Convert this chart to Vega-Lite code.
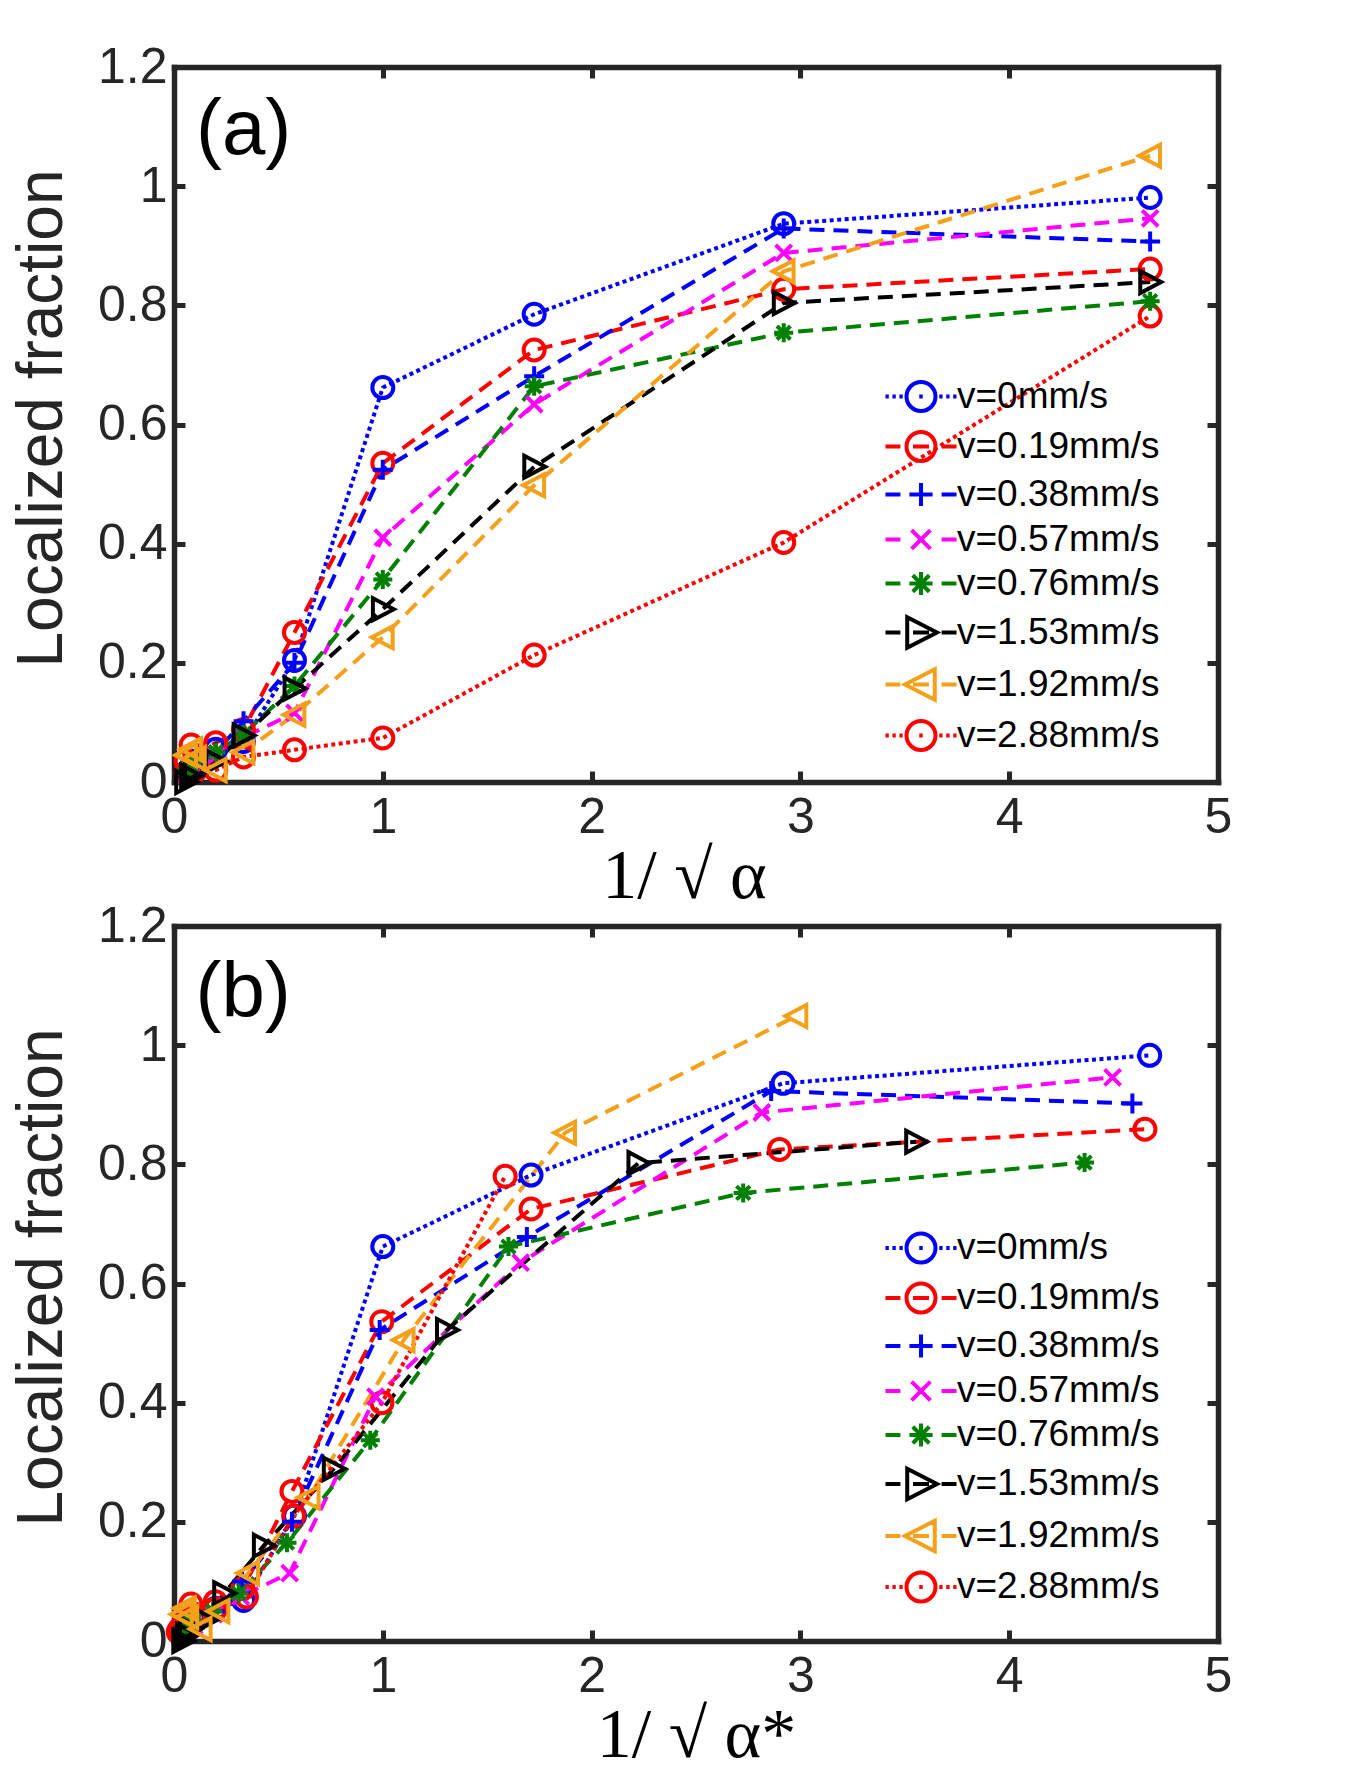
{
  "$schema": "https://vega.github.io/schema/vega-lite/v6.json",
  "background": "white",
  "padding": {"left": 10, "top": 42, "right": 10, "bottom": 10},
  "config": {
    "view": {"stroke": null},
    "font": "Liberation Sans",
    "axis": {
      "grid": false,
      "domainColor": "#262626",
      "domainWidth": 5.5,
      "domainCap": "square",
      "tickColor": "#262626",
      "tickWidth": 5,
      "tickSize": -11,
      "labelFont": "Liberation Sans",
      "labelFontSize": 50,
      "labelColor": "#262626",
      "labelOverlap": false,
      "labelFlush": false
    }
  },
  "datasets": {
    "a": [
      {"s": "v=0mm/s", "x": 0.058, "y": 0.015}, {"s": "v=0mm/s", "x": 0.082, "y": 0.025}, {"s": "v=0mm/s", "x": 0.1, "y": 0.035}, {"s": "v=0mm/s", "x": 0.2, "y": 0.055}, {"s": "v=0mm/s", "x": 0.333, "y": 0.068}, {"s": "v=0mm/s", "x": 0.577, "y": 0.204}, {"s": "v=0mm/s", "x": 1.0, "y": 0.662}, {"s": "v=0mm/s", "x": 1.725, "y": 0.785}, {"s": "v=0mm/s", "x": 2.92, "y": 0.937}, {"s": "v=0mm/s", "x": 4.675, "y": 0.981},
      {"s": "v=0.19mm/s", "x": 0.058, "y": 0.035}, {"s": "v=0.19mm/s", "x": 0.082, "y": 0.062}, {"s": "v=0.19mm/s", "x": 0.1, "y": 0.045}, {"s": "v=0.19mm/s", "x": 0.2, "y": 0.066}, {"s": "v=0.19mm/s", "x": 0.333, "y": 0.088}, {"s": "v=0.19mm/s", "x": 0.577, "y": 0.251}, {"s": "v=0.19mm/s", "x": 1.0, "y": 0.535}, {"s": "v=0.19mm/s", "x": 1.725, "y": 0.725}, {"s": "v=0.19mm/s", "x": 2.92, "y": 0.827}, {"s": "v=0.19mm/s", "x": 4.675, "y": 0.861},
      {"s": "v=0.38mm/s", "x": 0.058, "y": 0.01}, {"s": "v=0.38mm/s", "x": 0.082, "y": 0.02}, {"s": "v=0.38mm/s", "x": 0.1, "y": 0.03}, {"s": "v=0.38mm/s", "x": 0.2, "y": 0.05}, {"s": "v=0.38mm/s", "x": 0.333, "y": 0.102}, {"s": "v=0.38mm/s", "x": 0.577, "y": 0.2}, {"s": "v=0.38mm/s", "x": 1.0, "y": 0.524}, {"s": "v=0.38mm/s", "x": 1.725, "y": 0.681}, {"s": "v=0.38mm/s", "x": 2.92, "y": 0.929}, {"s": "v=0.38mm/s", "x": 4.675, "y": 0.907},
      {"s": "v=0.57mm/s", "x": 0.058, "y": 0.01}, {"s": "v=0.57mm/s", "x": 0.082, "y": 0.02}, {"s": "v=0.57mm/s", "x": 0.1, "y": 0.025}, {"s": "v=0.57mm/s", "x": 0.2, "y": 0.045}, {"s": "v=0.57mm/s", "x": 0.333, "y": 0.075}, {"s": "v=0.57mm/s", "x": 0.577, "y": 0.116}, {"s": "v=0.57mm/s", "x": 1.0, "y": 0.41}, {"s": "v=0.57mm/s", "x": 1.725, "y": 0.634}, {"s": "v=0.57mm/s", "x": 2.92, "y": 0.888}, {"s": "v=0.57mm/s", "x": 4.675, "y": 0.946},
      {"s": "v=0.76mm/s", "x": 0.058, "y": 0.02}, {"s": "v=0.76mm/s", "x": 0.082, "y": 0.03}, {"s": "v=0.76mm/s", "x": 0.1, "y": 0.035}, {"s": "v=0.76mm/s", "x": 0.2, "y": 0.05}, {"s": "v=0.76mm/s", "x": 0.333, "y": 0.08}, {"s": "v=0.76mm/s", "x": 0.577, "y": 0.161}, {"s": "v=0.76mm/s", "x": 1.0, "y": 0.34}, {"s": "v=0.76mm/s", "x": 1.725, "y": 0.664}, {"s": "v=0.76mm/s", "x": 2.92, "y": 0.754}, {"s": "v=0.76mm/s", "x": 4.675, "y": 0.807},
      {"s": "v=1.53mm/s", "x": 0.058, "y": 0.0}, {"s": "v=1.53mm/s", "x": 0.082, "y": 0.01}, {"s": "v=1.53mm/s", "x": 0.1, "y": 0.02}, {"s": "v=1.53mm/s", "x": 0.2, "y": 0.035}, {"s": "v=1.53mm/s", "x": 0.333, "y": 0.078}, {"s": "v=1.53mm/s", "x": 0.577, "y": 0.157}, {"s": "v=1.53mm/s", "x": 1.0, "y": 0.29}, {"s": "v=1.53mm/s", "x": 1.725, "y": 0.529}, {"s": "v=1.53mm/s", "x": 2.92, "y": 0.804}, {"s": "v=1.53mm/s", "x": 4.675, "y": 0.839},
      {"s": "v=1.92mm/s", "x": 0.058, "y": 0.045}, {"s": "v=1.92mm/s", "x": 0.082, "y": 0.055}, {"s": "v=1.92mm/s", "x": 0.1, "y": 0.04}, {"s": "v=1.92mm/s", "x": 0.2, "y": 0.02}, {"s": "v=1.92mm/s", "x": 0.333, "y": 0.05}, {"s": "v=1.92mm/s", "x": 0.577, "y": 0.113}, {"s": "v=1.92mm/s", "x": 1.0, "y": 0.243}, {"s": "v=1.92mm/s", "x": 1.725, "y": 0.498}, {"s": "v=1.92mm/s", "x": 2.92, "y": 0.857}, {"s": "v=1.92mm/s", "x": 4.675, "y": 1.051},
      {"s": "v=2.88mm/s", "x": 0.058, "y": 0.015}, {"s": "v=2.88mm/s", "x": 0.082, "y": 0.02}, {"s": "v=2.88mm/s", "x": 0.1, "y": 0.018}, {"s": "v=2.88mm/s", "x": 0.2, "y": 0.02}, {"s": "v=2.88mm/s", "x": 0.333, "y": 0.042}, {"s": "v=2.88mm/s", "x": 0.577, "y": 0.054}, {"s": "v=2.88mm/s", "x": 1.0, "y": 0.074}, {"s": "v=2.88mm/s", "x": 1.725, "y": 0.213}, {"s": "v=2.88mm/s", "x": 2.92, "y": 0.402}, {"s": "v=2.88mm/s", "x": 4.675, "y": 0.782}
    ],
    "b": [
      {"s": "v=0mm/s", "x": 0.058, "y": 0.015}, {"s": "v=0mm/s", "x": 0.082, "y": 0.025}, {"s": "v=0mm/s", "x": 0.1, "y": 0.035}, {"s": "v=0mm/s", "x": 0.2, "y": 0.055}, {"s": "v=0mm/s", "x": 0.333, "y": 0.068}, {"s": "v=0mm/s", "x": 0.577, "y": 0.21}, {"s": "v=0mm/s", "x": 1.0, "y": 0.662}, {"s": "v=0mm/s", "x": 1.71, "y": 0.782}, {"s": "v=0mm/s", "x": 2.917, "y": 0.936}, {"s": "v=0mm/s", "x": 4.673, "y": 0.983},
      {"s": "v=0.19mm/s", "x": 0.057, "y": 0.035}, {"s": "v=0.19mm/s", "x": 0.081, "y": 0.062}, {"s": "v=0.19mm/s", "x": 0.099, "y": 0.045}, {"s": "v=0.19mm/s", "x": 0.198, "y": 0.066}, {"s": "v=0.19mm/s", "x": 0.33, "y": 0.088}, {"s": "v=0.19mm/s", "x": 0.565, "y": 0.251}, {"s": "v=0.19mm/s", "x": 0.995, "y": 0.536}, {"s": "v=0.19mm/s", "x": 1.71, "y": 0.725}, {"s": "v=0.19mm/s", "x": 2.9, "y": 0.825}, {"s": "v=0.19mm/s", "x": 4.65, "y": 0.859},
      {"s": "v=0.38mm/s", "x": 0.057, "y": 0.01}, {"s": "v=0.38mm/s", "x": 0.08, "y": 0.02}, {"s": "v=0.38mm/s", "x": 0.098, "y": 0.03}, {"s": "v=0.38mm/s", "x": 0.196, "y": 0.05}, {"s": "v=0.38mm/s", "x": 0.326, "y": 0.1}, {"s": "v=0.38mm/s", "x": 0.565, "y": 0.2}, {"s": "v=0.38mm/s", "x": 0.985, "y": 0.522}, {"s": "v=0.38mm/s", "x": 1.69, "y": 0.678}, {"s": "v=0.38mm/s", "x": 2.86, "y": 0.923}, {"s": "v=0.38mm/s", "x": 4.59, "y": 0.902},
      {"s": "v=0.57mm/s", "x": 0.056, "y": 0.01}, {"s": "v=0.57mm/s", "x": 0.079, "y": 0.02}, {"s": "v=0.57mm/s", "x": 0.096, "y": 0.025}, {"s": "v=0.57mm/s", "x": 0.192, "y": 0.045}, {"s": "v=0.57mm/s", "x": 0.32, "y": 0.075}, {"s": "v=0.57mm/s", "x": 0.554, "y": 0.114}, {"s": "v=0.57mm/s", "x": 0.965, "y": 0.41}, {"s": "v=0.57mm/s", "x": 1.66, "y": 0.635}, {"s": "v=0.57mm/s", "x": 2.815, "y": 0.887}, {"s": "v=0.57mm/s", "x": 4.495, "y": 0.946},
      {"s": "v=0.76mm/s", "x": 0.054, "y": 0.02}, {"s": "v=0.76mm/s", "x": 0.077, "y": 0.03}, {"s": "v=0.76mm/s", "x": 0.094, "y": 0.035}, {"s": "v=0.76mm/s", "x": 0.187, "y": 0.05}, {"s": "v=0.76mm/s", "x": 0.31, "y": 0.08}, {"s": "v=0.76mm/s", "x": 0.541, "y": 0.165}, {"s": "v=0.76mm/s", "x": 0.94, "y": 0.337}, {"s": "v=0.76mm/s", "x": 1.602, "y": 0.662}, {"s": "v=0.76mm/s", "x": 2.726, "y": 0.752}, {"s": "v=0.76mm/s", "x": 4.361, "y": 0.803},
      {"s": "v=1.53mm/s", "x": 0.044, "y": 0.0}, {"s": "v=1.53mm/s", "x": 0.062, "y": 0.01}, {"s": "v=1.53mm/s", "x": 0.076, "y": 0.02}, {"s": "v=1.53mm/s", "x": 0.152, "y": 0.035}, {"s": "v=1.53mm/s", "x": 0.24, "y": 0.08}, {"s": "v=1.53mm/s", "x": 0.43, "y": 0.16}, {"s": "v=1.53mm/s", "x": 0.765, "y": 0.289}, {"s": "v=1.53mm/s", "x": 1.307, "y": 0.522}, {"s": "v=1.53mm/s", "x": 2.224, "y": 0.802}, {"s": "v=1.53mm/s", "x": 3.554, "y": 0.838},
      {"s": "v=1.92mm/s", "x": 0.037, "y": 0.045}, {"s": "v=1.92mm/s", "x": 0.052, "y": 0.055}, {"s": "v=1.92mm/s", "x": 0.064, "y": 0.04}, {"s": "v=1.92mm/s", "x": 0.128, "y": 0.02}, {"s": "v=1.92mm/s", "x": 0.213, "y": 0.05}, {"s": "v=1.92mm/s", "x": 0.355, "y": 0.114}, {"s": "v=1.92mm/s", "x": 0.645, "y": 0.241}, {"s": "v=1.92mm/s", "x": 1.1, "y": 0.505}, {"s": "v=1.92mm/s", "x": 1.873, "y": 0.853}, {"s": "v=1.92mm/s", "x": 2.981, "y": 1.049},
      {"s": "v=2.88mm/s", "x": 0.02, "y": 0.015}, {"s": "v=2.88mm/s", "x": 0.028, "y": 0.02}, {"s": "v=2.88mm/s", "x": 0.034, "y": 0.018}, {"s": "v=2.88mm/s", "x": 0.068, "y": 0.02}, {"s": "v=2.88mm/s", "x": 0.113, "y": 0.042}, {"s": "v=2.88mm/s", "x": 0.2, "y": 0.054}, {"s": "v=2.88mm/s", "x": 0.347, "y": 0.074}, {"s": "v=2.88mm/s", "x": 0.573, "y": 0.21}, {"s": "v=2.88mm/s", "x": 0.996, "y": 0.4}, {"s": "v=2.88mm/s", "x": 1.586, "y": 0.78}
    ]
  },
  "spacing": 144,
  "bounds": "flush",
  "resolve": {"scale": {"color": "independent", "shape": "independent", "stroke": "independent", "strokeDash": "independent"}},
  "vconcat": [
    {
      "width": 1044,
      "height": 715,
      "data": {"name": "a"},
      "resolve": {"axis": {"x": "independent", "y": "independent"}},
      "layer": [
        {
          "mark": {"type": "line", "strokeWidth": 4, "strokeCap": "butt"},
          "encoding": {
            "x": {"field": "x", "type": "quantitative", "scale": {"domain": [0, 5], "nice": false, "zero": false},
                  "axis": {"orient": "bottom", "values": [0, 1, 2, 3, 4, 5], "format": "~g", "labelPadding": 21,
                           "title": "1/ √ α", "titleFont": "Liberation Serif", "titleFontSize": 70, "titleFontWeight": "normal", "titleColor": "#000000", "titlePadding": 0, "titleX": 510}},
            "y": {"field": "y", "type": "quantitative", "scale": {"domain": [0, 1.2], "nice": false, "zero": false},
                  "axis": {"orient": "left", "values": [0, 0.2, 0.4, 0.6, 0.8, 1, 1.2], "format": "~g", "labelPadding": 18,
                           "title": "Localized fraction", "titleFont": "Liberation Sans", "titleFontSize": 64, "titleFontWeight": "normal", "titleColor": "#262626", "titlePadding": 23, "titleY": 351}},
            "color": {"field": "s", "type": "nominal", "legend": null,
                      "scale": {"domain": ["v=2.88mm/s", "v=1.92mm/s", "v=1.53mm/s", "v=0.76mm/s", "v=0.57mm/s", "v=0.38mm/s", "v=0.19mm/s", "v=0mm/s"],
                                "range": ["#FF0000", "#F5A01A", "#000000", "#008000", "#FF00FF", "#0000FF", "#FF0000", "#0000FF"]}},
            "strokeDash": {"field": "s", "type": "nominal", "legend": null,
                           "scale": {"domain": ["v=2.88mm/s", "v=1.92mm/s", "v=1.53mm/s", "v=0.76mm/s", "v=0.57mm/s", "v=0.38mm/s", "v=0.19mm/s", "v=0mm/s"],
                                     "range": [[4, 3.5], [15, 9], [15, 9], [15, 9], [15, 9], [15, 9], [15, 9], [4, 3.5]]}}
          }
        },
        {
          "transform": [{"filter": {"field": "s", "oneOf": ["v=0mm/s", "v=0.19mm/s", "v=2.88mm/s"]}}],
          "mark": {"type": "point", "shape": "circle", "size": 441, "filled": false, "strokeWidth": 4, "opacity": 1},
          "encoding": {"x": {"field": "x", "type": "quantitative", "axis": null}, "y": {"field": "y", "type": "quantitative", "axis": null}, "color": {"field": "s", "type": "nominal", "legend": null}}
        },
        {
          "transform": [{"filter": {"field": "s", "equal": "v=0.38mm/s"}}],
          "mark": {"type": "point", "shape": "M-1,0H1M0,-1V1", "size": 400, "filled": false, "strokeWidth": 4, "opacity": 1},
          "encoding": {"x": {"field": "x", "type": "quantitative", "axis": null}, "y": {"field": "y", "type": "quantitative", "axis": null}, "color": {"field": "s", "type": "nominal", "legend": null}}
        },
        {
          "transform": [{"filter": {"field": "s", "equal": "v=0.57mm/s"}}],
          "mark": {"type": "point", "shape": "M-1,-1L1,1M-1,1L1,-1", "size": 256, "filled": false, "strokeWidth": 4, "opacity": 1},
          "encoding": {"x": {"field": "x", "type": "quantitative", "axis": null}, "y": {"field": "y", "type": "quantitative", "axis": null}, "color": {"field": "s", "type": "nominal", "legend": null}}
        },
        {
          "transform": [{"filter": {"field": "s", "equal": "v=0.76mm/s"}}],
          "mark": {"type": "point", "shape": "M-1,0H1M0,-1V1M-0.71,-0.71L0.71,0.71M-0.71,0.71L0.71,-0.71", "size": 361, "filled": false, "strokeWidth": 4, "opacity": 1},
          "encoding": {"x": {"field": "x", "type": "quantitative", "axis": null}, "y": {"field": "y", "type": "quantitative", "axis": null}, "color": {"field": "s", "type": "nominal", "legend": null}}
        },
        {
          "transform": [{"filter": {"field": "s", "equal": "v=1.53mm/s"}}],
          "mark": {"type": "point", "shape": "M-0.9,-1L1,0L-0.9,1Z", "size": 484, "filled": false, "strokeWidth": 4, "opacity": 1},
          "encoding": {"x": {"field": "x", "type": "quantitative", "axis": null}, "y": {"field": "y", "type": "quantitative", "axis": null}, "color": {"field": "s", "type": "nominal", "legend": null}}
        },
        {
          "transform": [{"filter": {"field": "s", "equal": "v=1.92mm/s"}}],
          "mark": {"type": "point", "shape": "M0.9,-1L-1,0L0.9,1Z", "size": 484, "filled": false, "strokeWidth": 4, "opacity": 1},
          "encoding": {"x": {"field": "x", "type": "quantitative", "axis": null}, "y": {"field": "y", "type": "quantitative", "axis": null}, "color": {"field": "s", "type": "nominal", "legend": null}}
        },
        {
          "data": {"values": [{"label": "(a)"}]},
          "mark": {"type": "text", "align": "left", "baseline": "alphabetic", "font": "Liberation Sans", "fontSize": 78, "color": "#000000"},
          "encoding": {
            "x": {"datum": 0.105, "type": "quantitative", "axis": null},
            "y": {"datum": 1.054, "type": "quantitative", "axis": null},
            "text": {"field": "label"}
          }
        },
        {
          "mark": {"type": "point", "filled": false, "strokeWidth": 4, "size": 841, "opacity": 0},
          "encoding": {
            "x": {"field": "x", "type": "quantitative", "axis": null},
            "y": {"field": "y", "type": "quantitative", "axis": null},
            "shape": {"field": "s", "type": "nominal",
                      "scale": {"domain": ["v=0mm/s", "v=0.19mm/s", "v=0.38mm/s", "v=0.57mm/s", "v=0.76mm/s", "v=1.53mm/s", "v=1.92mm/s", "v=2.88mm/s"],
                                "range": [
                                  "M-2.45,0H-2.22M-1.97,0H-1.74M-1.49,0H-1.26M-0.12,0H0.12M1.26,0H1.49M1.74,0H1.97M2.22,0H2.45M1,0A1,1 0 1 1 -1,0A1,1 0 1 1 1,0Z",
                                  "M-2.45,0H-1.42M-0.55,0H0.55M1.42,0H2.45M1,0A1,1 0 1 1 -1,0A1,1 0 1 1 1,0Z",
                                  "M-2.45,0H-1.42M-0.55,0H0.55M1.42,0H2.45M-0.8,0H0.8M0,-0.8V0.8",
                                  "M-2.45,0H-1.42M1.42,0H2.45M-0.65,-0.65L0.65,0.65M-0.65,0.65L0.65,-0.65",
                                  "M-2.45,0H-1.42M1.42,0H2.45M-0.8,0H0.8M0,-0.8V0.8M-0.57,-0.57L0.57,0.57M-0.57,0.57L0.57,-0.57",
                                  "M-2.45,0H-1.42M-0.55,0H0.55M1.42,0H2.45M-0.95,-1.05L1.1,0L-0.95,1.05Z",
                                  "M-2.45,0H-1.42M-0.55,0H0.55M1.42,0H2.45M0.95,-1.05L-1.1,0L0.95,1.05Z",
                                  "M-2.45,0H-2.22M-1.97,0H-1.74M-1.49,0H-1.26M-0.12,0H0.12M1.26,0H1.49M1.74,0H1.97M2.22,0H2.45M1,0A1,1 0 1 1 -1,0A1,1 0 1 1 1,0Z"
                                ]},
                      "legend": {"title": null, "orient": "none", "legendX": 709, "legendY": 311, "padding": 0, "symbolSize": 841, "symbolStrokeWidth": 4, "symbolOffset": 19.5, "labelOffset": 17.5, "labelFontSize": 37, "labelFont": "Liberation Sans", "labelColor": "#000000", "rowPadding": 5, "labelLimit": 400, "symbolOpacity": 1}},
            "stroke": {"field": "s", "type": "nominal",
                       "scale": {"domain": ["v=0mm/s", "v=0.19mm/s", "v=0.38mm/s", "v=0.57mm/s", "v=0.76mm/s", "v=1.53mm/s", "v=1.92mm/s", "v=2.88mm/s"],
                                 "range": ["#0000FF", "#FF0000", "#0000FF", "#FF00FF", "#008000", "#000000", "#F5A01A", "#FF0000"]},
                       "legend": {"title": null, "orient": "none", "legendX": 709, "legendY": 311, "padding": 0, "symbolSize": 841, "symbolStrokeWidth": 4, "symbolOffset": 19.5, "labelOffset": 17.5, "labelFontSize": 37, "labelFont": "Liberation Sans", "labelColor": "#000000", "rowPadding": 5, "labelLimit": 400, "symbolOpacity": 1}}
          }
        },
        {
          "mark": {"type": "point", "opacity": 0},
          "encoding": {
            "x": {"field": "x", "type": "quantitative",
                  "axis": {"orient": "top", "values": [0, 1, 2, 3, 4, 5], "labels": false, "title": null}},
            "y": {"field": "y", "type": "quantitative",
                  "axis": {"orient": "right", "values": [0, 0.2, 0.4, 0.6, 0.8, 1, 1.2], "labels": false, "title": null}}
          }
        }
      ]
    },
    {
      "width": 1044,
      "height": 715,
      "data": {"name": "b"},
      "resolve": {"axis": {"x": "independent", "y": "independent"}},
      "layer": [
        {
          "mark": {"type": "line", "strokeWidth": 4, "strokeCap": "butt"},
          "encoding": {
            "x": {"field": "x", "type": "quantitative", "scale": {"domain": [0, 5], "nice": false, "zero": false},
                  "axis": {"orient": "bottom", "values": [0, 1, 2, 3, 4, 5], "format": "~g", "labelPadding": 21,
                           "title": "1/ √ α*", "titleFont": "Liberation Serif", "titleFontSize": 70, "titleFontWeight": "normal", "titleColor": "#000000", "titlePadding": 0, "titleX": 522}},
            "y": {"field": "y", "type": "quantitative", "scale": {"domain": [0, 1.2], "nice": false, "zero": false},
                  "axis": {"orient": "left", "values": [0, 0.2, 0.4, 0.6, 0.8, 1, 1.2], "format": "~g", "labelPadding": 18,
                           "title": "Localized fraction", "titleFont": "Liberation Sans", "titleFontSize": 64, "titleFontWeight": "normal", "titleColor": "#262626", "titlePadding": 23, "titleY": 351}},
            "color": {"field": "s", "type": "nominal", "legend": null,
                      "scale": {"domain": ["v=2.88mm/s", "v=1.92mm/s", "v=1.53mm/s", "v=0.76mm/s", "v=0.57mm/s", "v=0.38mm/s", "v=0.19mm/s", "v=0mm/s"],
                                "range": ["#FF0000", "#F5A01A", "#000000", "#008000", "#FF00FF", "#0000FF", "#FF0000", "#0000FF"]}},
            "strokeDash": {"field": "s", "type": "nominal", "legend": null,
                           "scale": {"domain": ["v=2.88mm/s", "v=1.92mm/s", "v=1.53mm/s", "v=0.76mm/s", "v=0.57mm/s", "v=0.38mm/s", "v=0.19mm/s", "v=0mm/s"],
                                     "range": [[4, 3.5], [15, 9], [15, 9], [15, 9], [15, 9], [15, 9], [15, 9], [4, 3.5]]}}
          }
        },
        {
          "transform": [{"filter": {"field": "s", "oneOf": ["v=0mm/s", "v=0.19mm/s", "v=2.88mm/s"]}}],
          "mark": {"type": "point", "shape": "circle", "size": 441, "filled": false, "strokeWidth": 4, "opacity": 1},
          "encoding": {"x": {"field": "x", "type": "quantitative", "axis": null}, "y": {"field": "y", "type": "quantitative", "axis": null}, "color": {"field": "s", "type": "nominal", "legend": null}}
        },
        {
          "transform": [{"filter": {"field": "s", "equal": "v=0.38mm/s"}}],
          "mark": {"type": "point", "shape": "M-1,0H1M0,-1V1", "size": 400, "filled": false, "strokeWidth": 4, "opacity": 1},
          "encoding": {"x": {"field": "x", "type": "quantitative", "axis": null}, "y": {"field": "y", "type": "quantitative", "axis": null}, "color": {"field": "s", "type": "nominal", "legend": null}}
        },
        {
          "transform": [{"filter": {"field": "s", "equal": "v=0.57mm/s"}}],
          "mark": {"type": "point", "shape": "M-1,-1L1,1M-1,1L1,-1", "size": 256, "filled": false, "strokeWidth": 4, "opacity": 1},
          "encoding": {"x": {"field": "x", "type": "quantitative", "axis": null}, "y": {"field": "y", "type": "quantitative", "axis": null}, "color": {"field": "s", "type": "nominal", "legend": null}}
        },
        {
          "transform": [{"filter": {"field": "s", "equal": "v=0.76mm/s"}}],
          "mark": {"type": "point", "shape": "M-1,0H1M0,-1V1M-0.71,-0.71L0.71,0.71M-0.71,0.71L0.71,-0.71", "size": 361, "filled": false, "strokeWidth": 4, "opacity": 1},
          "encoding": {"x": {"field": "x", "type": "quantitative", "axis": null}, "y": {"field": "y", "type": "quantitative", "axis": null}, "color": {"field": "s", "type": "nominal", "legend": null}}
        },
        {
          "transform": [{"filter": {"field": "s", "equal": "v=1.53mm/s"}}],
          "mark": {"type": "point", "shape": "M-0.9,-1L1,0L-0.9,1Z", "size": 484, "filled": false, "strokeWidth": 4, "opacity": 1},
          "encoding": {"x": {"field": "x", "type": "quantitative", "axis": null}, "y": {"field": "y", "type": "quantitative", "axis": null}, "color": {"field": "s", "type": "nominal", "legend": null}}
        },
        {
          "transform": [{"filter": {"field": "s", "equal": "v=1.92mm/s"}}],
          "mark": {"type": "point", "shape": "M0.9,-1L-1,0L0.9,1Z", "size": 484, "filled": false, "strokeWidth": 4, "opacity": 1},
          "encoding": {"x": {"field": "x", "type": "quantitative", "axis": null}, "y": {"field": "y", "type": "quantitative", "axis": null}, "color": {"field": "s", "type": "nominal", "legend": null}}
        },
        {
          "data": {"values": [{"label": "(b)"}]},
          "mark": {"type": "text", "align": "left", "baseline": "alphabetic", "font": "Liberation Sans", "fontSize": 78, "color": "#000000"},
          "encoding": {
            "x": {"datum": 0.103, "type": "quantitative", "axis": null},
            "y": {"datum": 1.047, "type": "quantitative", "axis": null},
            "text": {"field": "label"}
          }
        },
        {
          "mark": {"type": "point", "filled": false, "strokeWidth": 4, "size": 841, "opacity": 0},
          "encoding": {
            "x": {"field": "x", "type": "quantitative", "axis": null},
            "y": {"field": "y", "type": "quantitative", "axis": null},
            "shape": {"field": "s", "type": "nominal",
                      "scale": {"domain": ["v=0mm/s", "v=0.19mm/s", "v=0.38mm/s", "v=0.57mm/s", "v=0.76mm/s", "v=1.53mm/s", "v=1.92mm/s", "v=2.88mm/s"],
                                "range": [
                                  "M-2.45,0H-2.22M-1.97,0H-1.74M-1.49,0H-1.26M-0.12,0H0.12M1.26,0H1.49M1.74,0H1.97M2.22,0H2.45M1,0A1,1 0 1 1 -1,0A1,1 0 1 1 1,0Z",
                                  "M-2.45,0H-1.42M-0.55,0H0.55M1.42,0H2.45M1,0A1,1 0 1 1 -1,0A1,1 0 1 1 1,0Z",
                                  "M-2.45,0H-1.42M-0.55,0H0.55M1.42,0H2.45M-0.8,0H0.8M0,-0.8V0.8",
                                  "M-2.45,0H-1.42M1.42,0H2.45M-0.65,-0.65L0.65,0.65M-0.65,0.65L0.65,-0.65",
                                  "M-2.45,0H-1.42M1.42,0H2.45M-0.8,0H0.8M0,-0.8V0.8M-0.57,-0.57L0.57,0.57M-0.57,0.57L0.57,-0.57",
                                  "M-2.45,0H-1.42M-0.55,0H0.55M1.42,0H2.45M-0.95,-1.05L1.1,0L-0.95,1.05Z",
                                  "M-2.45,0H-1.42M-0.55,0H0.55M1.42,0H2.45M0.95,-1.05L-1.1,0L0.95,1.05Z",
                                  "M-2.45,0H-2.22M-1.97,0H-1.74M-1.49,0H-1.26M-0.12,0H0.12M1.26,0H1.49M1.74,0H1.97M2.22,0H2.45M1,0A1,1 0 1 1 -1,0A1,1 0 1 1 1,0Z"
                                ]},
                      "legend": {"title": null, "orient": "none", "legendX": 709, "legendY": 303.5, "padding": 0, "symbolSize": 841, "symbolStrokeWidth": 4, "symbolOffset": 19.5, "labelOffset": 17.5, "labelFontSize": 37, "labelFont": "Liberation Sans", "labelColor": "#000000", "rowPadding": 5, "labelLimit": 400, "symbolOpacity": 1}},
            "stroke": {"field": "s", "type": "nominal",
                       "scale": {"domain": ["v=0mm/s", "v=0.19mm/s", "v=0.38mm/s", "v=0.57mm/s", "v=0.76mm/s", "v=1.53mm/s", "v=1.92mm/s", "v=2.88mm/s"],
                                 "range": ["#0000FF", "#FF0000", "#0000FF", "#FF00FF", "#008000", "#000000", "#F5A01A", "#FF0000"]},
                       "legend": {"title": null, "orient": "none", "legendX": 709, "legendY": 303.5, "padding": 0, "symbolSize": 841, "symbolStrokeWidth": 4, "symbolOffset": 19.5, "labelOffset": 17.5, "labelFontSize": 37, "labelFont": "Liberation Sans", "labelColor": "#000000", "rowPadding": 5, "labelLimit": 400, "symbolOpacity": 1}}
          }
        },
        {
          "mark": {"type": "point", "opacity": 0},
          "encoding": {
            "x": {"field": "x", "type": "quantitative",
                  "axis": {"orient": "top", "values": [0, 1, 2, 3, 4, 5], "labels": false, "title": null}},
            "y": {"field": "y", "type": "quantitative",
                  "axis": {"orient": "right", "values": [0, 0.2, 0.4, 0.6, 0.8, 1, 1.2], "labels": false, "title": null}}
          }
        }
      ]
    }
  ]
}
